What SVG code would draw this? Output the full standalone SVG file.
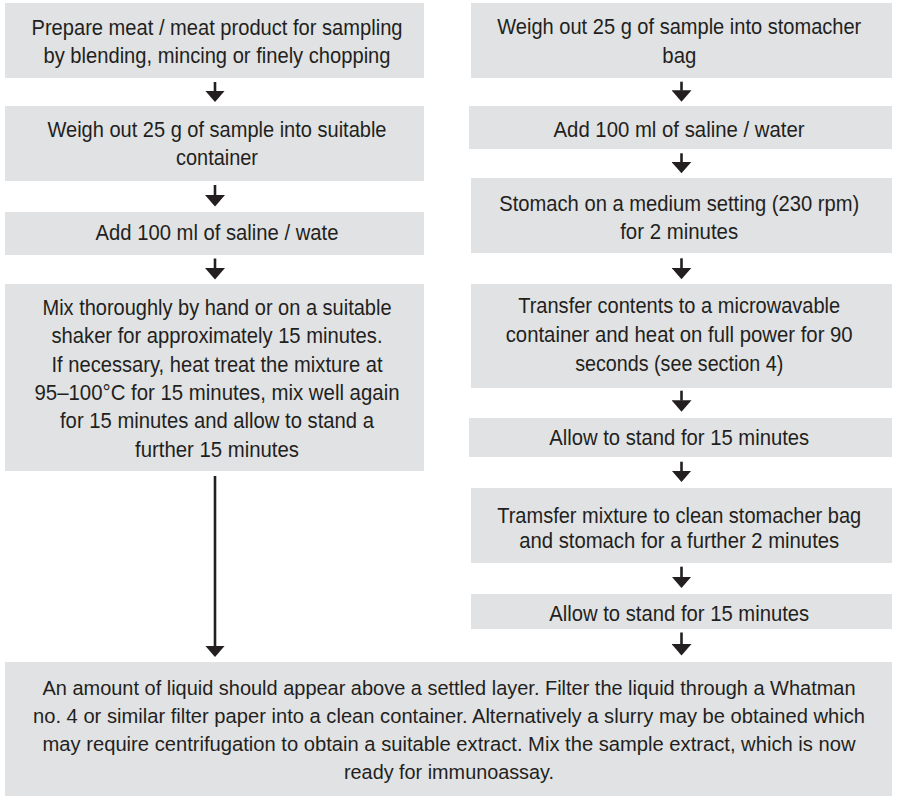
<svg xmlns="http://www.w3.org/2000/svg" width="897" height="796" viewBox="0 0 897 796">
<style>
.box{fill:#e1e2e4;}
.t{font-family:"Liberation Sans",Arial,sans-serif;font-size:22px;fill:#231f20;text-anchor:middle;}
.tb{font-size:20.5px;}
.arr{stroke:#231f20;stroke-width:2.6;fill:none;marker-end:url(#ah);}
</style>
<defs>
<marker id="ah" markerUnits="userSpaceOnUse" markerWidth="12" markerHeight="20" viewBox="0 0 12 20" refX="0.5" refY="10" orient="auto">
<path d="M0,0 L11.5,10 L0,20 Z" fill="#231f20"/>
</marker>
</defs>
<rect width="897" height="796" fill="#ffffff"/>
<g id="L1"><rect class="box" x="5" y="3" width="419" height="75"/>
<text class="t" x="217" y="35" textLength="371" lengthAdjust="spacingAndGlyphs">Prepare meat / meat product for sampling</text>
<text class="t" x="217" y="63.3" textLength="347" lengthAdjust="spacingAndGlyphs">by blending, mincing or finely chopping</text></g>
<g id="L2"><rect class="box" x="5" y="106" width="419" height="75"/>
<text class="t" x="217" y="136.7" textLength="339" lengthAdjust="spacingAndGlyphs">Weigh out 25 g of sample into suitable</text>
<text class="t" x="217" y="165" textLength="82" lengthAdjust="spacingAndGlyphs">container</text></g>
<g id="L3"><rect class="box" x="5" y="212" width="419" height="43"/>
<text class="t" x="217" y="240" textLength="243" lengthAdjust="spacingAndGlyphs">Add 100 ml of saline / wate</text></g>
<g id="L4"><rect class="box" x="5" y="284" width="419" height="187"/>
<text class="t" x="217" y="315" textLength="349" lengthAdjust="spacingAndGlyphs">Mix thoroughly by hand or on a suitable</text>
<text class="t" x="217" y="343.3" textLength="331" lengthAdjust="spacingAndGlyphs">shaker for approximately 15 minutes.</text>
<text class="t" x="217" y="371.7" textLength="331" lengthAdjust="spacingAndGlyphs">If necessary, heat treat the mixture at</text>
<text class="t" x="217" y="400" textLength="365" lengthAdjust="spacingAndGlyphs">95–100°C for 15 minutes, mix well again</text>
<text class="t" x="217" y="428.3" textLength="314" lengthAdjust="spacingAndGlyphs">for 15 minutes and allow to stand a</text>
<text class="t" x="217" y="456.7" textLength="164" lengthAdjust="spacingAndGlyphs">further 15 minutes</text></g>
<g id="R1"><rect class="box" x="471" y="3" width="421" height="75"/>
<text class="t" x="679.3" y="34" textLength="364" lengthAdjust="spacingAndGlyphs">Weigh out 25 g of sample into stomacher</text>
<text class="t" x="679.3" y="62.5" textLength="34" lengthAdjust="spacingAndGlyphs">bag</text></g>
<g id="R2"><rect class="box" x="469" y="106" width="423" height="43"/>
<text class="t" x="679" y="136.7" textLength="251" lengthAdjust="spacingAndGlyphs">Add 100 ml of saline / water</text></g>
<g id="R3"><rect class="box" x="471" y="178" width="421" height="75"/>
<text class="t" x="679.2" y="210.7" textLength="360" lengthAdjust="spacingAndGlyphs">Stomach on a medium setting (230 rpm)</text>
<text class="t" x="679.2" y="239.3" textLength="118" lengthAdjust="spacingAndGlyphs">for 2 minutes</text></g>
<g id="R4"><rect class="box" x="471" y="284" width="421" height="104"/>
<text class="t" x="679.2" y="312.7" textLength="322" lengthAdjust="spacingAndGlyphs">Transfer contents to a microwavable</text>
<text class="t" x="679.2" y="341.5" textLength="347" lengthAdjust="spacingAndGlyphs">container and heat on full power for 90</text>
<text class="t" x="679.2" y="370.5" textLength="208" lengthAdjust="spacingAndGlyphs">seconds (see section 4)</text></g>
<g id="R5"><rect class="box" x="469" y="418" width="423" height="39"/>
<text class="t" x="679.2" y="445" textLength="260" lengthAdjust="spacingAndGlyphs">Allow to stand for 15 minutes</text></g>
<g id="R6"><rect class="box" x="471" y="488" width="421" height="75"/>
<text class="t" x="679.2" y="523" textLength="364" lengthAdjust="spacingAndGlyphs">Tramsfer mixture to clean stomacher bag</text>
<text class="t" x="679.2" y="548" textLength="320" lengthAdjust="spacingAndGlyphs">and stomach for a further 2 minutes</text></g>
<g id="R7"><rect class="box" x="471" y="594" width="421" height="35"/>
<text class="t" x="679.2" y="621" textLength="260" lengthAdjust="spacingAndGlyphs">Allow to stand for 15 minutes</text></g>
<g id="B"><rect class="box" x="5" y="662" width="887" height="134"/>
<text class="t tb" x="449" y="695" textLength="813" lengthAdjust="spacingAndGlyphs">An amount of liquid should appear above a settled layer. Filter the liquid through a Whatman</text>
<text class="t tb" x="449" y="723" textLength="832" lengthAdjust="spacingAndGlyphs">no. 4 or similar filter paper into a clean container. Alternatively a slurry may be obtained which</text>
<text class="t tb" x="449" y="751" textLength="813" lengthAdjust="spacingAndGlyphs">may require centrifugation to obtain a suitable extract. Mix the sample extract, which is now</text>
<text class="t tb" x="449" y="779" textLength="210" lengthAdjust="spacingAndGlyphs">ready for immunoassay.</text></g>
<g id="connectors">
<line class="arr" x1="215" y1="82" x2="215" y2="91"/>
<line class="arr" x1="215" y1="185" x2="215" y2="195.5"/>
<line class="arr" x1="215" y1="258.5" x2="215" y2="268.5"/>
<line class="arr" x1="215" y1="476" x2="215" y2="646"/>
<line class="arr" x1="681.5" y1="81.7" x2="681.5" y2="90.7"/>
<line class="arr" x1="681.5" y1="153.3" x2="681.5" y2="162.3"/>
<line class="arr" x1="681.5" y1="258.3" x2="681.5" y2="268.3"/>
<line class="arr" x1="681.5" y1="390.7" x2="681.5" y2="400.7"/>
<line class="arr" x1="681.5" y1="461.7" x2="681.5" y2="471"/>
<line class="arr" x1="681.5" y1="566.7" x2="681.5" y2="577"/>
<line class="arr" x1="681.5" y1="632.5" x2="681.5" y2="644.5"/>
</g>
</svg>
